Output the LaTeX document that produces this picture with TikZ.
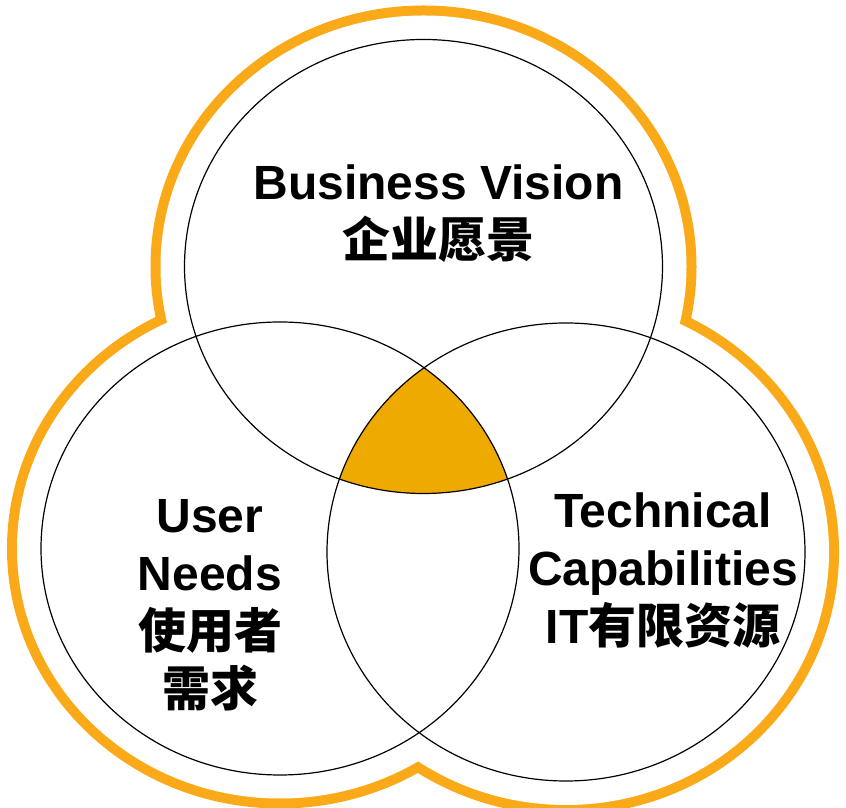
\documentclass[tikz,border=0pt]{standalone}
\usepackage{fontspec}
\setmainfont{Liberation Sans}
\newfontfamily\cjk{Noto Sans CJK SC}
\definecolor{ringorange}{HTML}{FAAA19}
\definecolor{coreorange}{HTML}{EEAA00}
\begin{document}
\begin{tikzpicture}[x=1pt,y=1pt,
  outerring/.style={draw=ringorange,line width=20pt},
  innercircle/.style={draw=black,line width=1.2pt},
  lbl/.style={align=center,inner sep=0pt,font=\bfseries\fontsize{48}{58}\selectfont}]
\useasboundingbox (0,0) rectangle (846,808);
\coordinate (T) at (423.5,541.5);
\coordinate (L) at (280,259.5);
\coordinate (R) at (566,256);
% outer trefoil outline
\path[outerring] (T) ellipse [x radius=263pt,y radius=251pt];
\path[outerring] (L) ellipse [x radius=263pt,y radius=250pt];
\path[outerring] (R) ellipse [x radius=263pt,y radius=253pt];
\fill[white] (T) ellipse [x radius=263pt,y radius=251pt];
\fill[white] (L) ellipse [x radius=263pt,y radius=250pt];
\fill[white] (R) ellipse [x radius=263pt,y radius=253pt];
% central intersection
\begin{scope}
  \clip (T) ellipse [x radius=239pt,y radius=227pt];
  \clip (L) ellipse [x radius=239pt,y radius=226.5pt];
  \fill[coreorange] (R) ellipse [x radius=239pt,y radius=229pt];
\end{scope}
% inner circles
\path[innercircle] (T) ellipse [x radius=239pt,y radius=227pt];
\path[innercircle] (L) ellipse [x radius=239pt,y radius=226.5pt];
\path[innercircle] (R) ellipse [x radius=239pt,y radius=229pt];
% labels
\node[lbl] (bv) at (438.5,594) {Business Vision\\{\cjk 企业愿景}};
\node[lbl] (un) at (210,203) {User\\Needs\\{\cjk 使用者}\\{\cjk 需求}};
\node[lbl] (tc) at (663,238) {Technical\\Capabilities\\IT{\cjk 有限资源}};
\end{tikzpicture}
\end{document}
